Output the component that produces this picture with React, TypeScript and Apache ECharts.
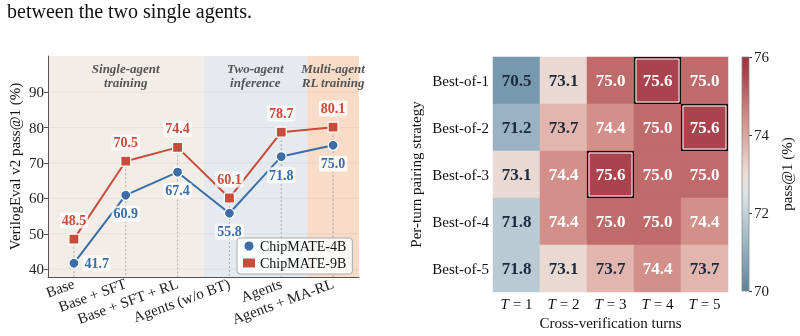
import React, { useEffect, useRef } from "react";
import * as echarts from "echarts";

const stages = ["Base", "Base + SFT", "Base + SFT + RL", "Agents (w/o BT)", "Agents", "Agents + MA-RL"];
const chip4B = [41.7, 60.9, 67.4, 55.8, 71.8, 75.0];
const chip9B = [48.5, 70.5, 74.4, 60.1, 78.7, 80.1];
const label4BPos = ["right", "bottom", "bottom", "bottom", "bottom", "bottom"];
const yTicks = [40, 50, 60, 70, 80, 90];
const regionLine1 = ["Single-agent", "Two-agent", "Multi-agent"];
const regionLine2 = ["training", "inference", "RL training"];
const regionStart = [0, 3, 5];
const regionEnd = [2, 4, 5];
const regionColors = ["#f2eee7", "#e5eaef", "#f8dcc8"];

const turns = [1, 2, 3, 4, 5];
const strategies = ["Best-of-1", "Best-of-2", "Best-of-3", "Best-of-4", "Best-of-5"];
const heatValues = [
  [70.5, 73.1, 75.0, 75.6, 75.0],
  [71.2, 73.7, 74.4, 75.0, 75.6],
  [73.1, 74.4, 75.6, 75.0, 75.0],
  [71.8, 74.4, 75.0, 75.0, 74.4],
  [71.8, 73.1, 73.7, 74.4, 73.7],
];
const colorTicks = [70, 72, 74, 76];
const cmap = [
  "#5a839b", "#7699ae", "#8fabbc", "#a7bfca", "#c4d3da", "#dde3e3", "#ebdfd9",
  "#e6c3bb", "#dba39c", "#d18b86", "#bf6a6b", "#ac4851", "#a2303e",
];

const SERIF = "'Liberation Serif', 'Times New Roman', serif";
const BLUE = "#3b6ea6";
const RED = "#c94b3b";
const DARK = "#1b2a3c";

export default function App() {
  const ref = useRef<HTMLDivElement>(null);
  useEffect(() => {
    if (!ref.current) return;
    const chart = echarts.init(ref.current, null, { renderer: "svg" });
    const heatMax = Math.max(...heatValues.flat());
    const heatData: any[] = [];
    const highlight: number[][] = [];
    heatValues.forEach((row, r) =>
      row.forEach((v, c) => {
        heatData.push({ value: [c, r, v], label: { color: v >= 74 ? "#ffffff" : DARK } });
        if (v === heatMax) highlight.push([c, r]);
      })
    );
    const dropData = stages.map((_, i) => [i, Math.max(chip4B[i], chip9B[i])]);
    const gradStops = cmap.map((c, i) => ({ offset: 1 - i / (cmap.length - 1), color: c })).reverse();
    const titleStyle = (text: string) => ({
      text,
      fill: "#555",
      fontSize: 13,
      lineHeight: 12,
      fontFamily: SERIF,
      fontWeight: "bold",
      fontStyle: "italic",
      align: "center",
      verticalAlign: "middle",
    });

    const option: any = {
      animation: false,
      textStyle: { fontFamily: SERIF },
      graphic: [
        {
          type: "text",
          left: 7,
          top: 1,
          style: { text: "between the two single agents.", fontSize: 20, fontFamily: SERIF, fill: "#111" },
        },
      ],
      grid: [
        { left: 48, top: 56, width: 311, height: 221 },
        { left: 493, top: 57, width: 235, height: 235 },
        { left: 742, top: 57, width: 7, height: 234 },
      ],
      legend: {
        left: 237,
        top: 238,
        orient: "vertical",
        itemWidth: 12,
        itemHeight: 9,
        itemGap: 3,
        padding: [1, 6, 4, 6],
        backgroundColor: "rgba(255,255,255,0.85)",
        borderColor: "#aaaaaa",
        borderWidth: 1,
        borderRadius: 3,
        textStyle: { fontFamily: SERIF, fontSize: 14, color: "#111", lineHeight: 14 },
        data: [
          { name: "ChipMATE-4B", icon: "circle", itemStyle: { borderWidth: 0 } },
          { name: "ChipMATE-9B", icon: "rect", itemStyle: { borderWidth: 0 } },
        ],
      },
      visualMap: {
        type: "continuous",
        show: false,
        min: 70,
        max: 76,
        dimension: 2,
        seriesIndex: 5,
        inRange: { color: cmap },
      },
      xAxis: [
        {
          type: "category",
          gridIndex: 0,
          data: stages,
          boundaryGap: true,
          axisLine: { lineStyle: { color: "#555", width: 1 } },
          axisTick: { alignWithLabel: true, length: 4, lineStyle: { color: "#555" } },
          axisLabel: { rotate: 20, fontSize: 15, fontFamily: SERIF, color: "#222", margin: 6, interval: 0 },
          splitLine: { show: false },
        },
        {
          type: "category",
          gridIndex: 1,
          data: turns,
          axisLine: { show: false },
          axisTick: { show: false },
          axisLabel: {
            margin: 4,
            interval: 0,
            formatter: (v: string) => `{i|T}{r| = ${v}}`,
            rich: {
              i: { fontStyle: "italic", fontSize: 15, fontFamily: SERIF, color: "#111" },
              r: { fontSize: 15, fontFamily: SERIF, color: "#111" },
            },
          },
          name: "Cross-verification turns",
          nameLocation: "middle",
          nameGap: 23,
          nameTextStyle: { fontSize: 15, fontFamily: SERIF, color: "#111" },
        },
        { type: "category", gridIndex: 2, data: ["c"], show: false },
      ],
      yAxis: [
        {
          type: "value",
          gridIndex: 0,
          min: 37.8,
          max: 100.2,
          axisLine: { show: true, lineStyle: { color: "#555", width: 1 } },
          axisTick: { show: true, length: 4, customValues: yTicks, lineStyle: { color: "#555" } },
          axisLabel: { customValues: yTicks, fontSize: 15, fontFamily: SERIF, color: "#222", margin: 4 },
          splitLine: { show: false },
          name: "VerilogEval v2 pass@1 (%)",
          nameLocation: "middle",
          nameGap: 26,
          nameTextStyle: { fontSize: 15, fontFamily: SERIF, color: "#111" },
        },
        {
          type: "category",
          gridIndex: 1,
          data: strategies,
          inverse: true,
          axisLine: { show: false },
          axisTick: { show: false },
          axisLabel: { fontSize: 15, fontFamily: SERIF, color: "#111", margin: 4, interval: 0 },
          name: "Per-turn pairing strategy",
          nameLocation: "middle",
          nameGap: 70,
          nameTextStyle: { fontSize: 15, fontFamily: SERIF, color: "#111" },
        },
        {
          type: "value",
          gridIndex: 2,
          position: "right",
          min: 70,
          max: 76,
          interval: 2,
          axisLine: { show: false },
          axisTick: { show: true, length: 3, lineStyle: { color: "#333" } },
          axisLabel: { fontSize: 15, fontFamily: SERIF, color: "#222", margin: 5 },
          splitLine: { show: false },
          name: "pass@1 (%)",
          nameLocation: "middle",
          nameGap: 30,
          nameRotate: 90,
          nameTextStyle: { fontSize: 15, fontFamily: SERIF, color: "#111" },
        },
      ],
      series: [
        {
          type: "custom",
          xAxisIndex: 0,
          yAxisIndex: 0,
          z: 0,
          silent: true,
          data: regionStart.map((s, i) => [s, 50, regionEnd[i], i]),
          encode: { x: 0, y: 1 },
          renderItem: (params: any, api: any) => {
            const cs = params.coordSys;
            const s = api.value(0);
            const e = api.value(2);
            const idx = api.value(3);
            const bw = api.size([1, 0])[0];
            const x0 = Math.max(cs.x, api.coord([s, 50])[0] - bw / 2);
            const x1 = Math.min(cs.x + cs.width, api.coord([e, 50])[0] + bw / 2);
            const cx = (x0 + x1) / 2;
            return {
              type: "group",
              children: [
                { type: "rect", shape: { x: x0, y: cs.y, width: x1 - x0, height: cs.height }, style: { fill: regionColors[idx] } },
                { type: "text", x: cx, y: cs.y + 12.5, style: titleStyle(regionLine1[idx]) },
                { type: "text", x: cx, y: cs.y + 26, style: titleStyle(regionLine2[idx]) },
              ],
            };
          },
        },
        {
          type: "custom",
          xAxisIndex: 0,
          yAxisIndex: 0,
          z: 1,
          silent: true,
          data: yTicks.map((v) => [0, v]),
          encode: { x: 0, y: 1 },
          renderItem: (params: any, api: any) => {
            const cs = params.coordSys;
            const y = api.coord([0, api.value(1)])[1];
            return {
              type: "line",
              shape: { x1: cs.x, y1: y, x2: cs.x + cs.width, y2: y },
              style: { stroke: "rgba(150,150,150,0.18)", lineWidth: 0.8 },
            };
          },
        },
        {
          type: "custom",
          xAxisIndex: 0,
          yAxisIndex: 0,
          z: 1,
          silent: true,
          data: dropData,
          encode: { x: 0, y: 1 },
          renderItem: (params: any, api: any) => {
            const cs = params.coordSys;
            const p = api.coord([api.value(0), api.value(1)]);
            return {
              type: "line",
              shape: { x1: p[0], y1: p[1], x2: p[0], y2: cs.y + cs.height },
              style: { stroke: "#9a9a9a", lineWidth: 0.8, lineDash: [2, 2] },
            };
          },
        },
        {
          name: "ChipMATE-4B",
          type: "line",
          xAxisIndex: 0,
          yAxisIndex: 0,
          z: 3,
          data: chip4B.map((v, i) => ({ value: v, label: { position: label4BPos[i], distance: label4BPos[i] === "right" ? 3 : 5 } })),
          symbol: "circle",
          symbolSize: 10,
          lineStyle: { color: BLUE, width: 2 },
          itemStyle: { color: BLUE, borderColor: "#fff", borderWidth: 1.2 },
          label: {
            show: true,
            formatter: (p: any) => p.value.toFixed(1),
            fontFamily: SERIF,
            fontWeight: "bold",
            fontSize: 14,
            color: BLUE,
            backgroundColor: "rgba(255,255,255,0.75)",
            padding: [1, 2],
            borderRadius: 2,
          },
        },
        {
          name: "ChipMATE-9B",
          type: "line",
          xAxisIndex: 0,
          yAxisIndex: 0,
          z: 3,
          data: chip9B,
          symbol: "rect",
          symbolSize: 10,
          lineStyle: { color: RED, width: 2 },
          itemStyle: { color: RED, borderColor: "#fff", borderWidth: 1.2 },
          label: {
            show: true,
            position: "top",
            distance: 5,
            formatter: (p: any) => p.value.toFixed(1),
            fontFamily: SERIF,
            fontWeight: "bold",
            fontSize: 14,
            color: RED,
            backgroundColor: "rgba(255,255,255,0.75)",
            padding: [1, 2],
            borderRadius: 2,
          },
        },
        {
          type: "heatmap",
          xAxisIndex: 1,
          yAxisIndex: 1,
          data: heatData,
          label: {
            show: true,
            formatter: (p: any) => p.value[2].toFixed(1),
            fontFamily: SERIF,
            fontWeight: "bold",
            fontSize: 17,
          },
          emphasis: { disabled: true },
        },
        {
          type: "custom",
          xAxisIndex: 1,
          yAxisIndex: 1,
          z: 5,
          silent: true,
          data: highlight,
          encode: { x: 0, y: 1 },
          renderItem: (params: any, api: any) => {
            const c = api.coord([api.value(0), api.value(1)]);
            const sz = api.size([1, 1]);
            const x = c[0] - sz[0] / 2;
            const y = c[1] - sz[1] / 2;
            return {
              type: "group",
              children: [
                { type: "rect", shape: { x: x + 0.75, y: y + 0.75, width: sz[0] - 1.5, height: sz[1] - 1.5 }, style: { fill: "none", stroke: "#111", lineWidth: 1.5 } },
                { type: "rect", shape: { x: x + 2, y: y + 2, width: sz[0] - 4, height: sz[1] - 4 }, style: { fill: "none", stroke: "#fff", lineWidth: 1 } },
              ],
            };
          },
        },
        {
          type: "custom",
          xAxisIndex: 2,
          yAxisIndex: 2,
          silent: true,
          data: [[0, colorTicks[0], colorTicks[colorTicks.length - 1]]],
          encode: { x: 0, y: 1 },
          renderItem: (params: any, api: any) => {
            const cs = params.coordSys;
            const top = api.coord([0, api.value(2)])[1];
            const bot = api.coord([0, api.value(1)])[1];
            return {
              type: "rect",
              shape: { x: cs.x, y: top, width: cs.width, height: bot - top },
              style: {
                fill: new echarts.graphic.LinearGradient(0, 0, 0, 1, gradStops),
                stroke: "#888",
                lineWidth: 0.8,
              },
            };
          },
        },
      ],
    };
    chart.setOption(option);
    return () => chart.dispose();
  }, []);
  return <div ref={ref} style={{ position: "fixed", left: 0, top: 0, width: 800, height: 336 }} />;
}
